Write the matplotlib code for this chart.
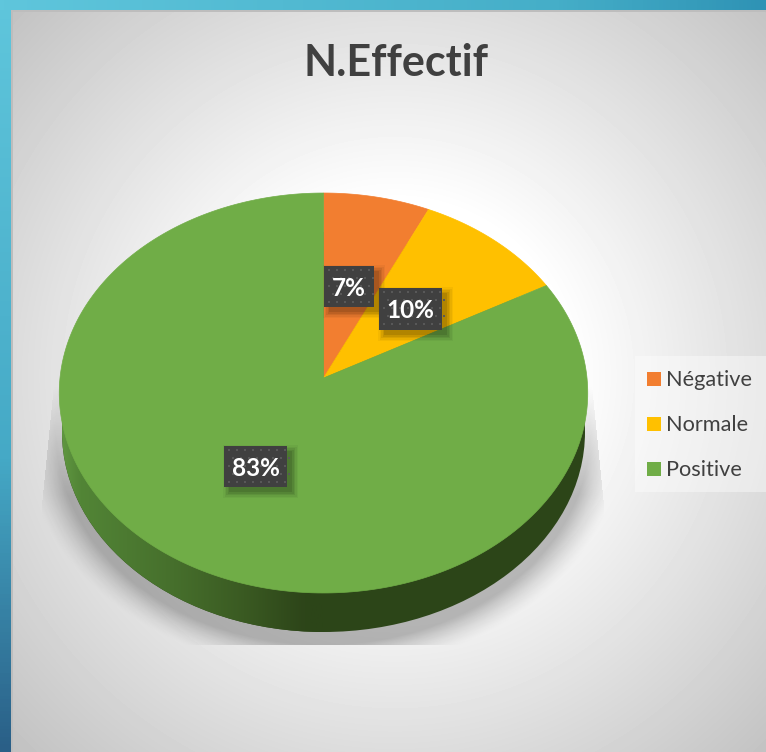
import numpy as np
import matplotlib
matplotlib.use('Agg')
import matplotlib.pyplot as plt
from matplotlib.patches import Rectangle, Ellipse
from matplotlib.colors import LinearSegmentedColormap

plt.rcParams['font.family'] = ['Lato', 'DejaVu Sans']

title = 'N.Effectif'
categories = ['Négative', 'Normale', 'Positive']
values = [7, 10, 83]
colors = ['#F27E30', '#FFC000', '#70AD47']
value_labels = ['7%', '10%', '83%']
# label boxes, in pixels: left, top, right, bottom
label_boxes = [(324, 266, 374, 307), (379, 288, 442, 330), (224, 446, 287, 487)]

W, H = 766, 752
fig = plt.figure(figsize=(W/100, H/100), dpi=100)
ax = fig.add_axes([0, 0, 1, 1])
ax.set_xlim(0, W)
ax.set_ylim(H, 0)
ax.axis('off')

# panel background
yy, xx = np.mgrid[0:H, 0:W] + 0.5
r = np.hypot(xx-395, yy-376)
bg = np.clip(255 - (r-175)*59/345, 0, 255)/255
ax.imshow(bg, cmap='gray', vmin=0, vmax=1, extent=(0, W, H, 0), aspect='auto', zorder=0)

# blue frame, left and top
left_cmap = LinearSegmentedColormap.from_list('l', [(0, '#5FC6DC'), (0.61, '#45A9C6'), (1, '#2A5F87')])
top_cmap = LinearSegmentedColormap.from_list('t', [(0, '#5FC6DC'), (0.73, '#45AEC8'), (1, '#2F93B5')])
ax.imshow(np.linspace(0, 1, 200)[:, None], cmap=left_cmap, extent=(0, 11, H, 0), aspect='auto', zorder=1)
ax.imshow(np.linspace(0, 1, 200)[None, :], cmap=top_cmap, extent=(0, W, 10, 0), aspect='auto', zorder=1)
ax.add_patch(Rectangle((11, 10), 1.5, H, fc='#BDBDBD', ec='none', zorder=1))
ax.add_patch(Rectangle((11, 10), W, 1.5, fc='#BDBDBD', ec='none', zorder=1))
ax.set_xlim(0, W)
ax.set_ylim(H, 0)

# soft shadow under the pie
e = np.hypot((xx-323)/270, (yy-432)/215)
alpha = 0.26*np.clip((1.12-e)/0.13, 0, 1)**1.5*np.clip((yy-385)/110, 0, 1)
edge = 42 + (505-yy).clip(0, 125)*0.1
alpha[(xx < edge) | (xx > 646-edge) | (yy > 645)] = 0
shadow = np.zeros((H, W, 4))
shadow[..., 3] = alpha
ax.imshow(shadow, extent=(0, W, H, 0), aspect='auto', zorder=2)


def rim(t):
    # point on the perspective circle, t is the clockwise fraction from the top
    u, v = np.sin(2*np.pi*t), np.cos(2*np.pi*t)
    w = 0.075*v + 1
    return 323.5 + 263.5*u/w, (-170.5*v + 378)/w


# side of the disc
side_cmap = LinearSegmentedColormap.from_list('s', [(0, '#5F9640'), (0.07, '#528536'), (0.43, '#466F2C'),
                                                    (0.7, '#3A5A22'), (0.93, '#2D4519'), (1, '#2C4518')])
ax.add_patch(Ellipse((323.5, 432), 523, 400, fc='#2C4518', ec='none', zorder=2.9))
side = ax.imshow(np.linspace(0, 1, 256)[None, :], cmap=side_cmap, extent=(62, 323, 632, 232), aspect='auto', zorder=3)
side.set_clip_path(Ellipse((323.5, 432), 523, 400, transform=ax.transData))

# top of the disc
start = 0
for val, col in zip(values, colors):
    frac = np.linspace(start, start + val/sum(values), 300)
    px, py = rim(frac)
    ax.fill(np.r_[323.5, px], np.r_[378, py], fc=col, ec=col, lw=0.5, zorder=4)
    start += val/sum(values)

# value labels
for (x0, y0, x1, y1), lab in zip(label_boxes, value_labels):
    for grow, a in zip([6, 4.5, 3, 1.5, 0], [0.04, 0.05, 0.07, 0.08, 0.10]):
        ax.add_patch(Rectangle((x0+5-grow, y0+5-grow), x1-x0+2*grow, y1-y0+2*grow,
                               fc='black', ec='none', alpha=a, zorder=5))
    ax.add_patch(Rectangle((x0, y0), x1-x0, y1-y0, fc='#404040', ec='none', zorder=6))
    dx, dy = np.meshgrid(np.arange(x0+5, x1-1, 8), np.arange(y0+4, y1-1, 8))
    dx = dx + (np.arange(dx.shape[0]) % 2)[:, None]*4
    ax.plot(dx.ravel(), dy.ravel(), ls='none', marker='s', ms=1.6, mew=0, color='#585858', zorder=6.5)
    ax.text((x0+x1)/2, (y0+y1)/2 + 1.5, lab, color='white', fontsize=17.5, fontweight='bold',
            ha='center', va='center', zorder=7)

# legend
ax.add_patch(Rectangle((635, 356), 131, 136, fc='white', ec='none', alpha=0.4, zorder=3))
for i, (cat, col) in enumerate(zip(categories, colors)):
    y = 379 + i*45
    ax.add_patch(Rectangle((647, y-7), 14, 14, fc=col, ec='none', zorder=4))
    ax.text(666.5, y+1, cat, color='#404040', fontsize=15.7, ha='left', va='center', zorder=4)

ax.text(396, 63.5, title, color='#404040', fontsize=31, fontweight='bold', ha='center', va='center', zorder=4)

fig.savefig('out.png', dpi=100)
